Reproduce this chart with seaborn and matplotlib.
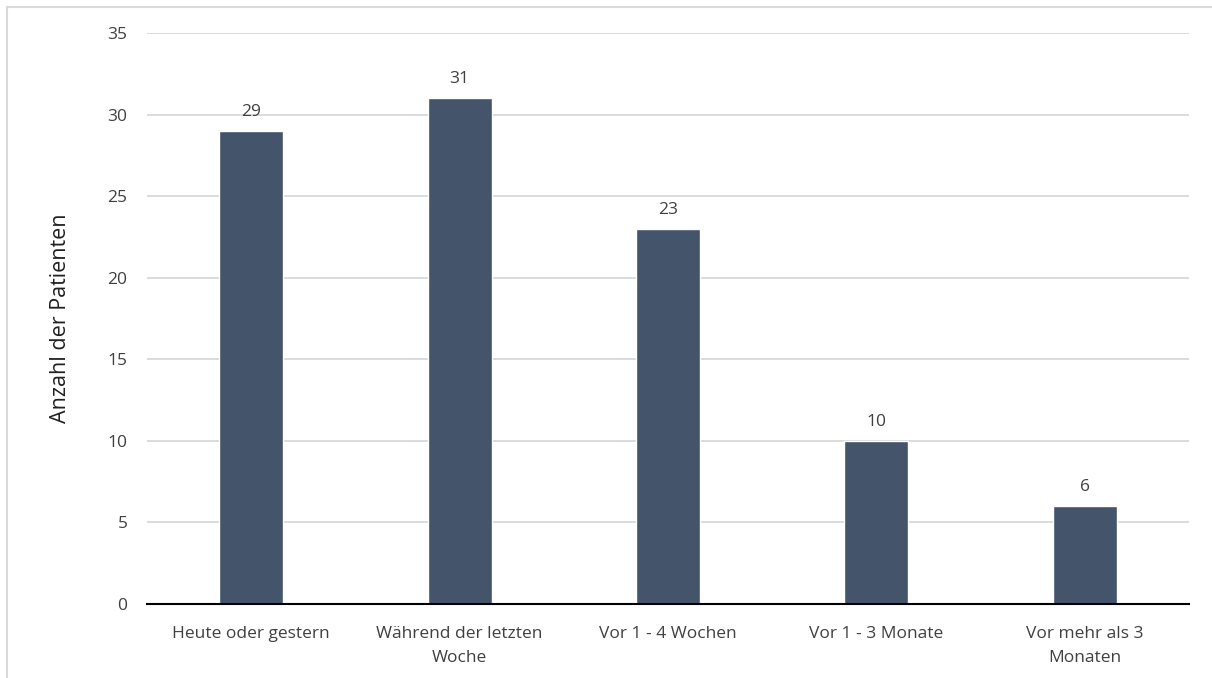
import matplotlib
matplotlib.use("Agg")
import matplotlib.pyplot as plt
import seaborn as sns
import pandas as pd
from matplotlib.lines import Line2D

categories = ["Heute oder gestern", "Während der letzten\nWoche", "Vor 1 - 4 Wochen",
              "Vor 1 - 3 Monate", "Vor mehr als 3\nMonaten"]
values = [29, 31, 23, 10, 6]
yticks = [0, 5, 10, 15, 20, 25, 30, 35]
ylabel = "Anzahl der Patienten"

sns.set_theme(style="white")
plt.rcParams['font.family'] = ['Open Sans', 'DejaVu Sans']

W, H = 1212, 678
fig = plt.figure(figsize=(W / 100, H / 100), dpi=100)
ax = fig.add_axes([147 / W, 1 - 604 / H, (1189 - 147) / W, (604 - 33) / H])

df = pd.DataFrame({"cat": categories, "val": values})
sns.barplot(data=df, x="cat", y="val", color="#44546A", saturation=1,
            width=0.307, ax=ax, zorder=3)

ax.set_ylim(0, 35)
ax.set_xlim(-0.5, len(categories) - 0.5)
ax.set_yticks(yticks)
ax.set_yticklabels([str(t) for t in yticks], fontsize=12.5, color="#404040")
ax.tick_params(axis="x", labelsize=12.5, labelcolor="#404040", length=0, pad=16)
for lbl in ax.get_xticklabels():
    lbl.set_linespacing(1.65)
ax.tick_params(axis="y", length=0, pad=14)
ax.yaxis.grid(True, color="#D9D9D9", linewidth=1.3, zorder=0)
ax.set_axisbelow(True)
for s in ["top", "right", "left"]:
    ax.spines[s].set_visible(False)
ax.spines["bottom"].set_color("#000000")
ax.spines["bottom"].set_linewidth(1.5)
ax.spines["bottom"].set_zorder(4)
ax.set_xlabel("")
ax.set_ylabel(ylabel, fontsize=15.5, color="#202020", labelpad=26)

for c in ax.containers:
    ax.bar_label(c, labels=[str(v) for v in values], padding=8, fontsize=12.5, color="#404040")

# figure border (top and left visible)
fig.add_artist(Line2D([7 / W, 7 / W], [0, 1 - 7 / H], transform=fig.transFigure,
                      color="#D9D9D9", linewidth=1.5))
fig.add_artist(Line2D([7 / W, 1], [1 - 7 / H, 1 - 7 / H], transform=fig.transFigure,
                      color="#D9D9D9", linewidth=1.5))

fig.savefig("out.png", dpi=100)
